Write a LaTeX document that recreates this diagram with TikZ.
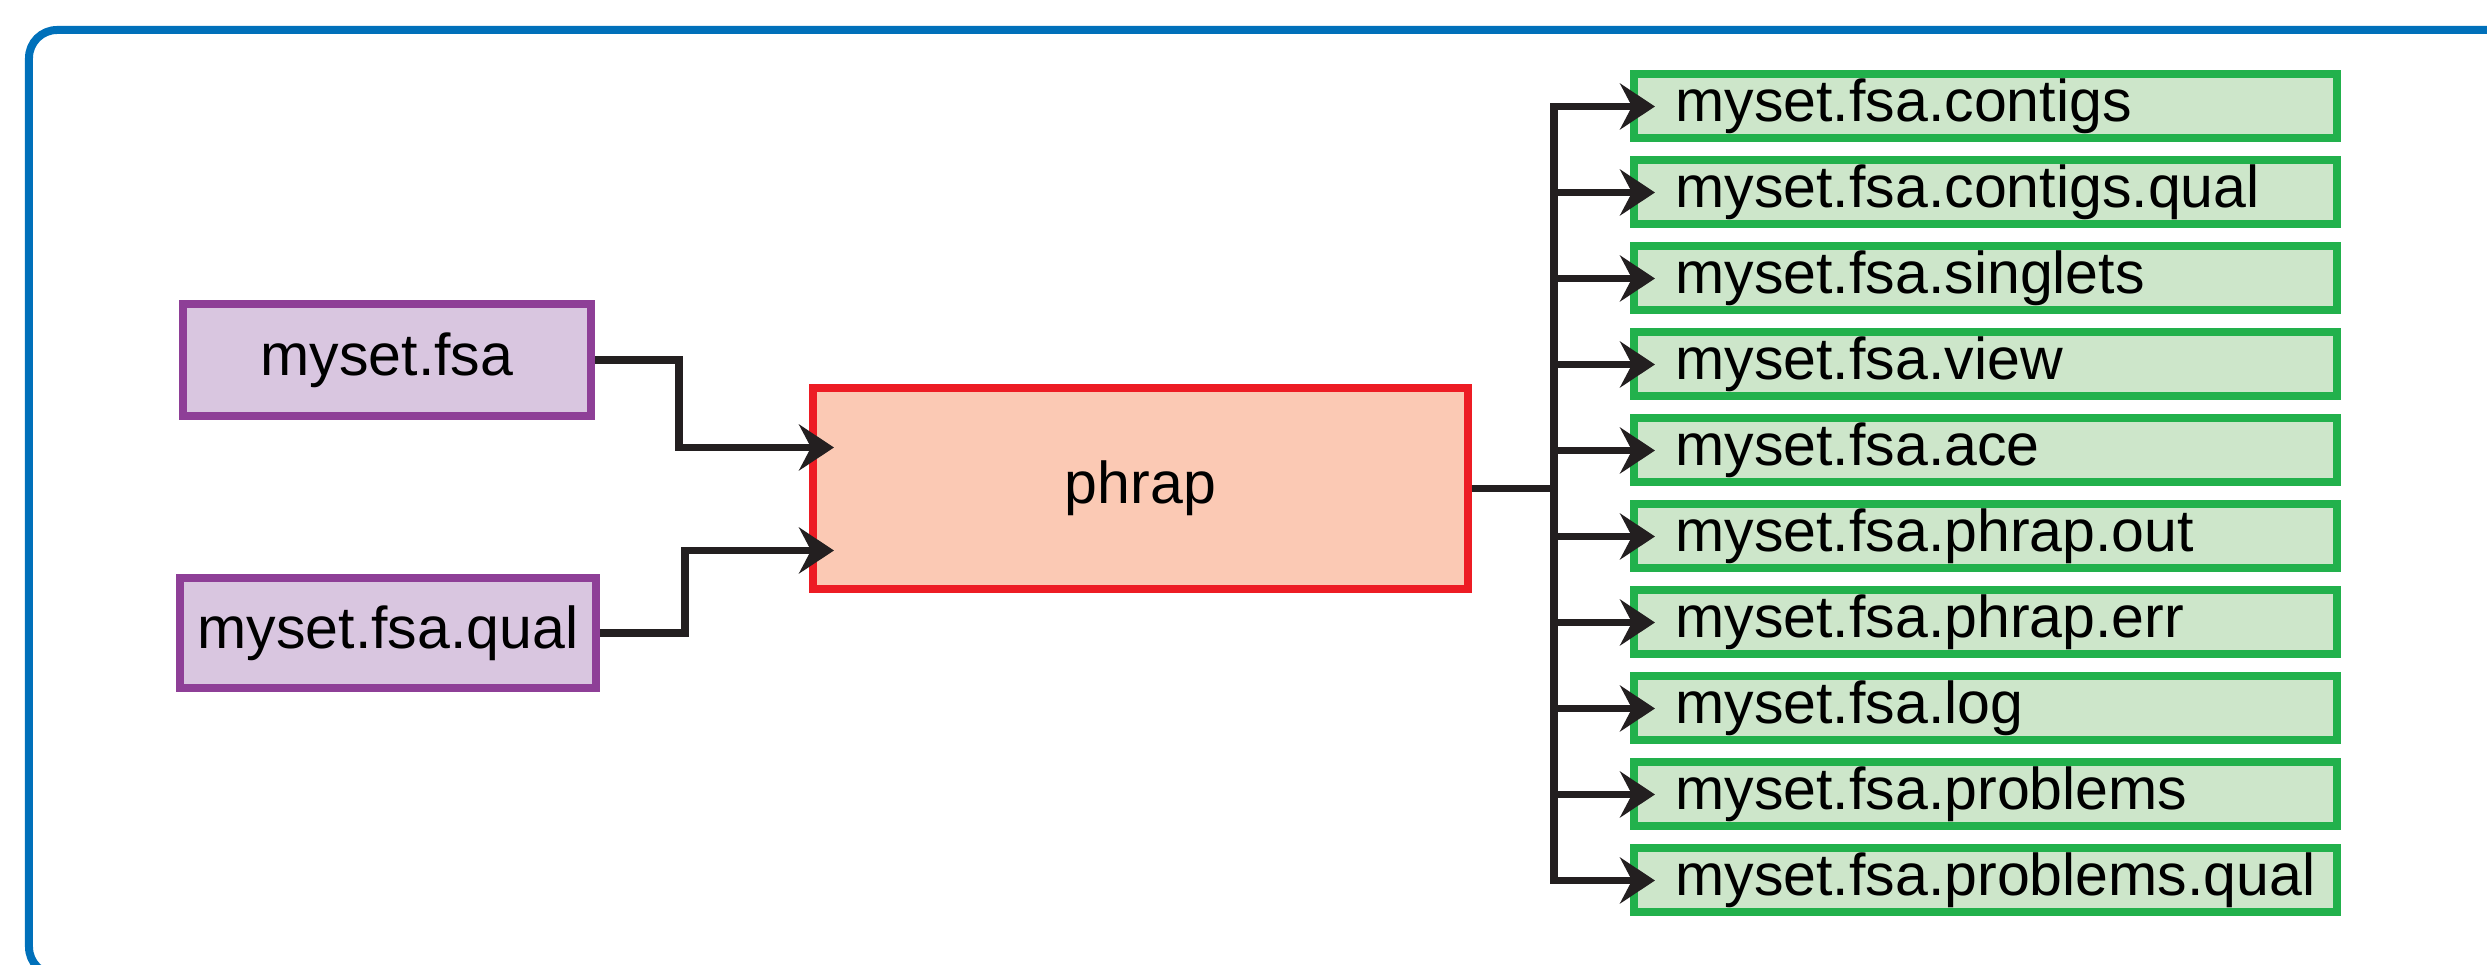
\documentclass[tikz,border=0pt]{standalone}
\usepackage{fontspec}
\setmainfont{Liberation Sans}
\usetikzlibrary{arrows.meta,positioning}
\definecolor{framecolor}{RGB}{0,112,186}
\definecolor{inborder}{RGB}{142,63,151}
\definecolor{infill}{RGB}{217,198,224}
\definecolor{toolborder}{RGB}{237,28,36}
\definecolor{toolfill}{RGB}{251,201,180}
\definecolor{outborder}{RGB}{34,177,76}
\definecolor{outfill}{RGB}{205,230,202}
\definecolor{arrowblack}{RGB}{35,31,32}
\newcommand{\filefont}{\fontsize{16.8}{20}\selectfont}
\tikzset{
  framebox/.style={draw=framecolor,line width=0.8mm,rounded corners=2.8mm},
  inbox/.style={draw=inborder,fill=infill,line width=0.8mm,inner sep=0pt,
    minimum width=4.08cm,minimum height=1.12cm,font=\filefont},
  toolbox/.style={draw=toolborder,fill=toolfill,line width=0.8mm,inner sep=0pt,
    minimum width=6.55cm,minimum height=2.01cm,font=\filefont},
  outbox/.style={draw=outborder,fill=outfill,line width=0.8mm,
    text width=6.2cm,align=left,inner xsep=4.15mm,inner ysep=0pt,
    minimum height=0.64cm,font=\filefont},
  flowline/.style={line width=0.75mm,draw=arrowblack},
  flowarrow/.style={flowline,-{Stealth[length=3.5mm,width=4.6mm,inset=1.2mm]},
    shorten >=-2.5mm},
}

\begin{document}
\begin{tikzpicture}[node distance=1.4mm]
  \useasboundingbox (0,0) rectangle (24.87,-9.65);
  \clip (0,0) rectangle (24.87,-9.65);
  \draw[framebox] (0.29,-0.30) rectangle (25.3,-9.75);

  % inputs and the assembler
  \node[inbox] (fsa) at (3.87,-3.60) {myset.fsa};
  \node[inbox,minimum width=4.16cm,minimum height=1.10cm] (qual) at (3.88,-6.33) {myset.fsa.qual};
  \node[toolbox] (phrap) at (11.405,-4.885) {phrap};

  % output files
  \node[outbox] (contigs) at (19.855,-1.065) {myset.fsa.contigs};
  \node[outbox,below=of contigs] (contigsqual) {myset.fsa.contigs.qual};
  \node[outbox,below=of contigsqual] (singlets) {myset.fsa.singlets};
  \node[outbox,below=of singlets] (view) {myset.fsa.view};
  \node[outbox,below=of view] (ace) {myset.fsa.ace};
  \node[outbox,below=of ace] (phrapout) {myset.fsa.phrap.out};
  \node[outbox,below=of phrapout] (phraperr) {myset.fsa.phrap.err};
  \node[outbox,below=of phraperr] (log) {myset.fsa.log};
  \node[outbox,below=of log] (problems) {myset.fsa.problems};
  \node[outbox,below=of problems] (problemsqual) {myset.fsa.problems.qual};

  \draw[flowarrow] (fsa.east) -- ++(0.84,0) |- ([yshift=4.1mm]phrap.west);
  \draw[flowarrow] (qual.east) -- ++(0.85,0) |- ([yshift=-6.2mm]phrap.west);

  \coordinate[right=8.2mm of phrap.east] (split);
  \draw[flowline] (phrap) -- (split);
  \draw[flowarrow] (split) |- (contigs);
  \draw[flowarrow] (split) |- (contigsqual);
  \draw[flowarrow] (split) |- (singlets);
  \draw[flowarrow] (split) |- (view);
  \draw[flowarrow] (split) |- (ace);
  \draw[flowarrow] (split) |- (phrapout);
  \draw[flowarrow] (split) |- (phraperr);
  \draw[flowarrow] (split) |- (log);
  \draw[flowarrow] (split) |- (problems);
  \draw[flowarrow] (split) |- (problemsqual);
\end{tikzpicture}
\end{document}
